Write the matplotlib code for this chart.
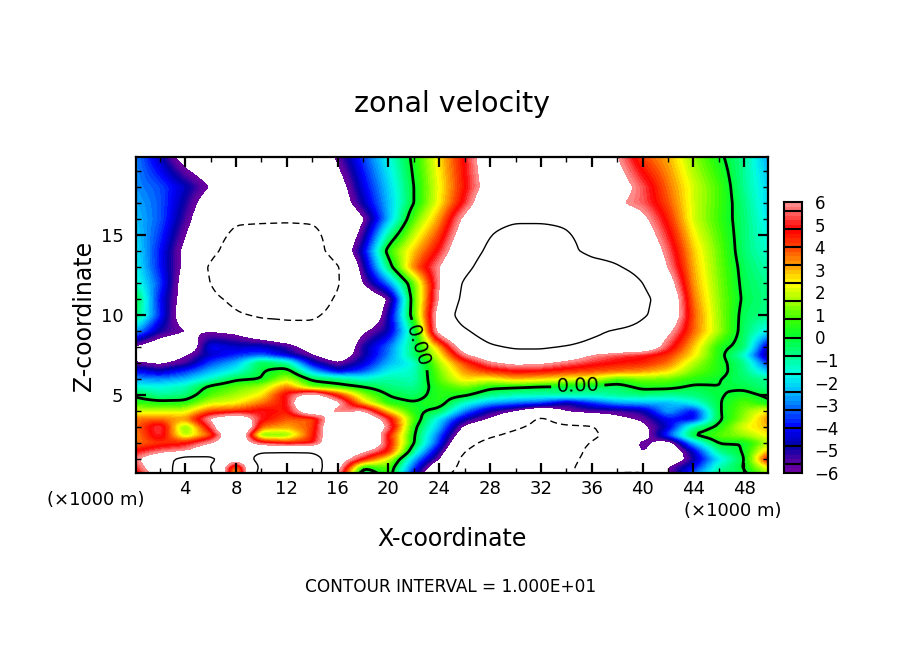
import numpy as np
import matplotlib
matplotlib.use('Agg')
import matplotlib.pyplot as plt
from matplotlib.colors import BoundaryNorm, LinearSegmentedColormap, ListedColormap

# zonal velocity, rows from top (z=20) to bottom (z=0)
x_km = [0, 2, 4, 6, 8, 10, 12, 14, 16, 18, 20, 22, 24, 26, 28, 30, 32, 34, 36, 38, 40, 42, 44, 46, 48, 50]
z_km = [20, 18, 17, 16, 14, 13, 12, 11, 10, 9, 8, 7.5, 7, 6.5, 6, 5.5, 5, 4.5, 4, 3.5, 3, 2.5, 2, 1.5, 1, 0.5, 0]
u_rows = [
    [-2.8, -4.7, -7, -8, -9, -9, -9, -8.5, -5.6, -3.5, -1.6, 0.3, 2.6, 4.8, 7.5, 9, 9, 9, 9, 6.0, 3.9, 3, 1.4, 0.2, -0.9, -2.8],
    [-2.8, -3.4, -4.6, -6.1, -9, -9, -9, -9, -7, -4.3, -2.2, 0, 2.3, 4.6, 7, 9, 9, 9, 8, 7, 5.4, 3.6, 2.0, 0.8, -0.9, -2.2],
    [-2.5, -3.3, -5, -7.2, -9.2, -9.2, -9.2, -9.2, -7.5, -4.8, -2.4, 0, 2.4, 5, 8, 9.2, 9.2, 9.2, 8.5, 6.2, 5.5, 3.9, 2, 0.8, -0.7, -2.2],
    [-2.3, -3.3, -5.4, -8, -9.5, -9.5, -9.6, -9.6, -9, -6.2, -2.5, 0.9, 3.2, 6.5, 9, 9.5, 9.5, 9.5, 9, 7.5, 6.5, 4.4, 2.0, 0.7, -0.6, -2],
    [-1.8, -3.9, -6.5, -9, -12, -13, -13, -12, -8, -4.5, 0.6, 2.8, 4.9, 8, 10.8, 13, 13, 11, 9, 8.6, 8, 5.5, 2.8, 1.1, -0.6, -1.5],
    [-1.6, -3.9, -6.5, -10.5, -14, -14, -14, -14, -10.3, -5.2, -0.6, 3.5, 6, 9, 12, 14, 14, 14, 11.5, 10.3, 8.5, 6, 3, 1.2, -0.4, -1.2],
    [-1.2, -3.5, -7, -10, -14, -14, -14, -14, -10.3, -6, -3, 1, 6, 10.5, 13, 14, 14, 14, 14, 13, 10, 7, 3.2, 1.3, -0.3, -0.9],
    [0.1, -4, -7, -9, -11, -14, -14, -12, -9.5, -8, -6, 0.8, 6.2, 11, 13, 14, 14, 14, 14, 13, 11, 8, 3.5, 1.4, -0.2, -0.8],
    [-0.2, -3.8, -7.5, -8, -9.5, -10.5, -10.5, -10.5, -9, -9, -5, 0.8, 7, 12, 14, 14, 14, 14, 14, 14, 10.5, 8, 3.8, 1.5, -0.4, -0.8],
    [-2.5, -5, -6, -6.2, -6.5, -8, -9, -9, -8.5, -6.3, -4.8, -0.6, 7, 9.5, 12, 13, 13, 12.5, 10.8, 9.5, 8.5, 6.5, 3.7, 1.6, -0.5, -2],
    [-6.2, -7.5, -8, -4, -4.5, -4.5, -5.3, -7, -8.5, -5, -3.2, -0.5, 3.0, 7.5, 9.5, 10.5, 10.5, 9.8, 9, 8.5, 8, 5.2, 2.8, 0.4, -0.5, -5],
    [-7, -7, -6.2, -4.5, -3.8, -3.3, -4.5, -6, -7.5, -5, -3, -0.6, 2.2, 5.8, 7.5, 8.5, 8.5, 7.5, 6, 5.3, 4.9, 4.2, 2.5, 0.4, -1.5, -5.5],
    [-5.8, -6.3, -5.5, -3.5, -2.5, -0.2, -1, -4.5, -6, -4.5, -2.5, -1.5, 1.6, 4, 5.8, 6.5, 6.3, 5.6, 5, 4.6, 4.4, 3.6, 1.7, 0.4, -0.8, -4],
    [-4, -4.8, -3.8, -2.5, -1.6, -0.1, 0.5, -2.5, -4.5, -3.5, -1.8, -1.3, 1.2, 3.3, 4.2, 4.7, 4.6, 4.2, 3.9, 3.6, 3.3, 2.6, 1.2, 0.4, -0.7, -2.5],
    [-2.8, -3, -2.5, -1.4, -0.2, 0, 1.8, -0.3, -0.8, -1.5, -1, -1.2, 1.0, 2.6, 2.2, 2.9, 2.6, 2.2, 2, 0.8, 1.2, 1.1, 0.5, 0.05, -0.5, -1],
    [-1.5, -1.6, -1.2, 0.3, 1, 1.6, 3.5, 1, 0.6, 0, -0.7, -0.9, 0.6, 1.2, 0.3, 0.1, -0.1, -0.2, -0.4, -0.5, 0.3, 0.3, -0.2, 0, -0.2, -0.8],
    [-0.1, -1, -0.7, 0.9, 1.6, 2.4, 5, 7, 4.3, 1.5, -0.05, -0.5, 0.5, 0.2, -0.8, -1.2, -1.3, -1, -1.2, -0.9, -0.7, -1, -0.7, -0.1, 0.3, -0.2],
    [0.5, 0.4, 0.4, 1.9, 2.3, 3.5, 4.8, 9.5, 6.5, 2.8, 0.4, 0.1, 0.5, -1.5, -2.7, -3.2, -3.6, -5, -3.8, -2.8, -2.6, -2.5, -1.8, -0.1, 1, 0.1],
    [2, 1.8, 2, 3.8, 4.1, 4.9, 4.5, 8, 5.5, 6.2, 2.5, 0.3, -0.3, -3, -5, -6.2, -8, -6, -5.5, -5.5, -5, -2.5, -4.2, -0.1, 1.3, 2.5],
    [3.6, 3.5, 3.2, 6.3, 8, 4.9, 3.8, 3.8, 8, 8.5, 5, 0.8, -2, -4.8, -6.3, -8, -10.5, -8.5, -8, -6.5, -5.8, -4, -4.3, -0.2, 1.5, 3.5],
    [3.5, 5.5, 1.0, 5.2, 10.6, 3.5, 3, 4, 9, 9, 5.7, 0.3, -2.5, -6.5, -8, -9.5, -11, -10.5, -10.3, -8, -6.5, -4.5, -1, 0.3, 2.2, 3],
    [3.2, 5.3, 1.5, 3.8, 9, 1.0, 1.2, 4.3, 8.5, 9.5, 4.5, 0.1, -3.3, -7.5, -9.5, -10.8, -11.5, -11.5, -10.5, -9, -7, -3.5, 0.05, 1, 1.5, 2.5],
    [3.5, 4.2, 4.5, 6, 8, 5, 4.2, 4.5, 9, 9.5, 4.8, 0, -3.8, -9, -11, -11.5, -12, -12, -9.8, -9, -5.5, -7, -2.5, 0.1, 0, 1.8],
    [4.6, 5.5, 6, 8, 9, 9.5, 9.5, 9.5, 8, 6.5, 4.5, -1, -5, -10, -11.5, -12, -12, -12, -9, -8, -5.8, -8, -4.5, -0.8, 0.1, 3],
    [5.6, 8, 11.5, 10.8, 7, 11.5, 12, 11.5, 7.5, 4.6, 2, -2.5, -6, -11, -11.5, -11.5, -11.5, -11, -9, -8.5, -8.5, -8, -5, -2, -0.1, 5],
    [4.8, 8, 12, 10.2, 3, 11, 13, 12, 7, 0.3, 1, -3.5, -8, -11, -11, -11, -11, -10.5, -9, -9.5, -9, -6, -4.2, -1.2, 0.05, 2.5],
    [4, 7, 13, 11, 2, 12, 14, 12, 6, -1.5, 0.8, -4.5, -9.5, -11, -11, -11, -11, -10.5, -9, -10.2, -10.5, -6, -3, -0.6, -0.3, 1.5],
]

x_ticks = [4, 8, 12, 16, 20, 24, 28, 32, 36, 40, 44, 48]
z_ticks = [5, 10, 15]
cbar_labels = ['6', '5', '4', '3', '2', '1', '0', '\u22121', '\u22122', '\u22123', '\u22124', '\u22125', '\u22126']

W, H = 904, 654

# rainbow used by the shaded field, pink at the top and purple at the bottom
anchors = [(-6.0, '#6e00a0'), (-5.6, '#5a00a0'), (-4.8, '#0000aa'), (-4.0, '#0000ff'), (-3.2, '#0064ff'),
           (-2.4, '#00beff'), (-1.6, '#00ffe6'), (-0.8, '#00ff8c'), (0.0, '#00ff32'), (0.8, '#3cff00'),
           (1.6, '#a0ff00'), (2.4, '#ffff00'), (3.2, '#ffa000'), (4.0, '#ff4600'), (4.8, '#ff0000'),
           (5.6, '#ff6464'), (6.0, '#ff9696')]
levels = np.arange(-6, 6.01, 0.2)
smooth = LinearSegmentedColormap.from_list('u', [((v + 6) / 12, c) for v, c in anchors])
cmap = ListedColormap(smooth((levels[:-1] + 0.1 + 6) / 12))
norm = BoundaryNorm(levels, cmap.N)


def blur(a, n, axis):
    k = np.hanning(n + 2)[1:-1]
    k = k / k.sum()
    p = n // 2
    return np.apply_along_axis(lambda r: np.convolve(np.pad(r, p, mode='edge'), k, mode='valid'), axis, a)


def refine(x, z, u):
    # plain resample on a finer mesh then a small blur, so bands are not angular
    xf = np.arange(0, 50.01, 0.25)
    zf = np.arange(0, 20.01, 0.125)
    zs = np.array(z)[::-1]
    us = np.array(u, dtype=float)[::-1]
    tmp = np.array([np.interp(zf, zs, us[:, j]) for j in range(us.shape[1])]).T
    fine = np.array([np.interp(xf, x, row) for row in tmp])
    return xf, zf, blur(blur(fine, 5, 1), 3, 0)


xf, zf, uf = refine(x_km, z_km, u_rows)

fig = plt.figure(figsize=(W / 100, H / 100), dpi=100)
ax = fig.add_axes([136 / W, 1 - 473 / H, (768 - 136) / W, (473 - 157) / H])

ax.contourf(xf, zf, uf, levels=levels, cmap=cmap, norm=norm)
ax.contour(xf, zf, uf, levels=[10], colors='k', linewidths=1.0)
ax.contour(xf, zf, uf, levels=[-10], colors='k', linewidths=1.0, linestyles=[(0, (5, 3))])
c0 = ax.contour(xf, zf, uf, levels=[0], colors='k', linewidths=2.0)
# the zero line carries two labels, one of them on the steep part near x=22
ax.clabel(c0, fmt='%.2f', fontsize=14, manual=[(34.9, 5.6), (22.5, 8.1)], inline=True)

ax.set_xlim(0.125, 49.875)
ax.set_ylim(0.125, 19.875)
ax.set_xticks(x_ticks)
ax.set_xticks(np.arange(2, 50, 2), minor=True)
ax.set_yticks(z_ticks)
ax.set_yticks(np.arange(1, 20), minor=True)
ax.tick_params(which='major', direction='in', top=True, right=True, length=7, width=1.6, labelsize=13)
ax.tick_params(which='minor', direction='in', top=True, right=True, length=3.5, width=1.0)
ax.tick_params(axis='x', which='major', pad=5)
ax.tick_params(axis='y', which='major', pad=9)
for s in ax.spines.values():
    s.set_linewidth(1.6)

fig.text(452 / W, 1 - 104 / H, 'zonal velocity', ha='center', va='center', fontsize=20.5)
fig.text(452 / W, 1 - 539 / H, 'X-coordinate', ha='center', va='center', fontsize=17)
fig.text(84 / W, 1 - 316 / H, 'Z-coordinate', ha='center', va='center', rotation=90, fontsize=17)
fig.text(96 / W, 1 - 500 / H, '(\u00d71000 m)', ha='center', va='center', fontsize=13)
fig.text(733 / W, 1 - 511 / H, '(\u00d71000 m)', ha='center', va='center', fontsize=13)
fig.text(451 / W, 1 - 587 / H, 'CONTOUR INTERVAL = 1.000E+01', ha='center', va='center', fontsize=12.2)

# colour bar, black separators every 0.8 while the labels go every 1
cax = fig.add_axes([784 / W, 1 - 473 / H, 18 / W, (473 - 202) / H])
cax.pcolormesh([0, 1], levels, (levels[:-1] + 0.1).reshape(-1, 1), cmap=cmap, norm=norm)
cax.hlines(np.arange(-5.6, 5.61, 0.8), 0, 1, colors='k', linewidth=1.5)
cax.set_xlim(0, 1)
cax.set_ylim(-6, 6)
cax.set_xticks([])
cax.yaxis.tick_right()
cax.set_yticks(np.arange(6, -7, -1))
cax.set_yticklabels(cbar_labels)
cax.tick_params(length=0, labelsize=12, pad=9)
for s in cax.spines.values():
    s.set_linewidth(1.5)

fig.savefig('out.png', dpi=100)
